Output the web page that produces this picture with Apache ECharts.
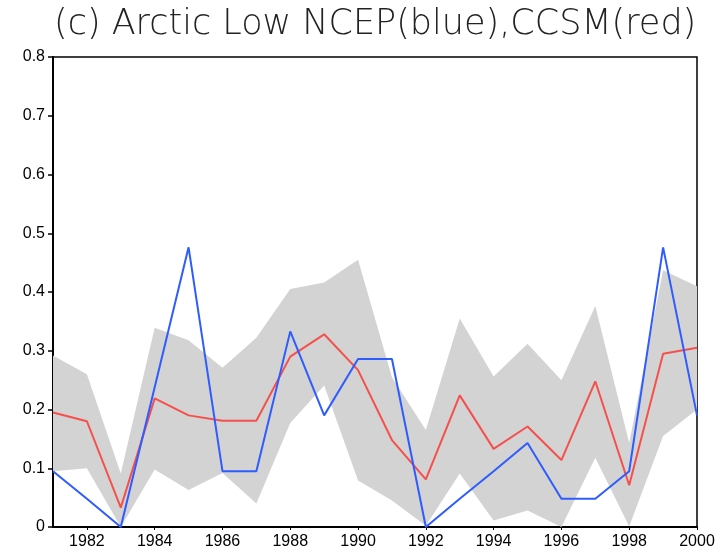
<!DOCTYPE html>
<html>
<head>
<meta charset="utf-8">
<script src="https://cdn.jsdelivr.net/npm/echarts@6/dist/echarts.min.js"></script>
<style>
  html, body { margin: 0; padding: 0; background: #fff; }
  #chart { width: 721px; height: 555px; }
</style>
</head>
<body>
<div id="chart"></div>
<script>
const years = ['1981', '1982', '1983', '1984', '1985', '1986', '1987', '1988', '1989', '1990',
  '1991', '1992', '1993', '1994', '1995', '1996', '1997', '1998', '1999', '2000']

// NCEP (blue)
const ncep = [0.095, 0.048, 0, 0.238, 0.476, 0.095, 0.095, 0.333, 0.19, 0.286,
  0.286, 0, 0.048, 0.095, 0.143, 0.048, 0.048, 0.095, 0.476, 0.19]

// CCSM ensemble mean (red)
const ccsm = [0.195, 0.18, 0.033, 0.219, 0.19, 0.181, 0.181, 0.29, 0.328, 0.267,
  0.148, 0.081, 0.224, 0.133, 0.171, 0.114, 0.248, 0.071, 0.295, 0.305]

// CCSM spread (grey band)
const bandLow = [0.095, 0.1, 0, 0.098, 0.063, 0.092, 0.04, 0.177, 0.241, 0.079,
  0.045, 0.002, 0.091, 0.011, 0.028, 0, 0.118, 0.001, 0.155, 0.2]
const bandHigh = [0.292, 0.26, 0.091, 0.339, 0.318, 0.271, 0.322, 0.405, 0.416, 0.455,
  0.255, 0.165, 0.355, 0.256, 0.312, 0.25, 0.376, 0.143, 0.437, 0.41]

const bandSpan = bandHigh.map((v, i) => +(v - bandLow[i]).toFixed(3))

const chart = echarts.init(document.getElementById('chart'), null, { renderer: 'canvas' })

const labelFont = { color: '#000', fontSize: 16, fontFamily: 'Liberation Sans, Arial, sans-serif' }
const evenYear = (idx, val) => Number(val) % 2 === 0

chart.setOption({
  backgroundColor: '#fff',
  animation: false,
  title: {
    text: '(c) Arctic Low NCEP(blue),CCSM(red)',
    left: 54,
    top: 7,
    padding: 0,
    textStyle: {
      color: '#222',
      fontSize: 35,
      fontWeight: 200,
      fontFamily: 'DejaVu Sans',
    },
  },
  grid: {
    left: 53,
    right: 24,
    top: 57,
    bottom: 28,
    show: true,
    borderColor: '#000',
    borderWidth: 1.5,
  },
  xAxis: {
    type: 'category',
    data: years,
    boundaryGap: false,
    axisLine: { lineStyle: { color: '#000', width: 2 } },
    axisTick: { show: true, interval: evenYear, length: 3, lineStyle: { color: '#000' } },
    axisLabel: { ...labelFont, interval: evenYear, margin: 7 },
    splitLine: { show: false },
  },
  yAxis: {
    type: 'value',
    min: 0,
    max: 0.8,
    interval: 0.1,
    axisLine: { show: true, lineStyle: { color: '#000', width: 2 } },
    axisTick: { show: true, length: 5, lineStyle: { color: '#000', width: 1.5 } },
    axisLabel: { ...labelFont, margin: 8 },
    splitLine: { show: false },
  },
  series: [
    {
      name: 'low',
      type: 'line',
      stack: 'band',
      data: bandLow,
      symbol: 'none',
      lineStyle: { opacity: 0 },
      silent: true,
    },
    {
      name: 'spread',
      type: 'line',
      stack: 'band',
      data: bandSpan,
      symbol: 'none',
      lineStyle: { opacity: 0 },
      areaStyle: { color: '#d3d3d3', opacity: 1 },
      silent: true,
    },
    {
      name: 'CCSM',
      type: 'line',
      data: ccsm,
      symbol: 'none',
      lineStyle: { color: '#f5504c', width: 2 },
      z: 3,
    },
    {
      name: 'NCEP',
      type: 'line',
      data: ncep,
      symbol: 'none',
      lineStyle: { color: '#2f5cff', width: 2 },
      z: 4,
    },
  ],
})
</script>
</body>
</html>
